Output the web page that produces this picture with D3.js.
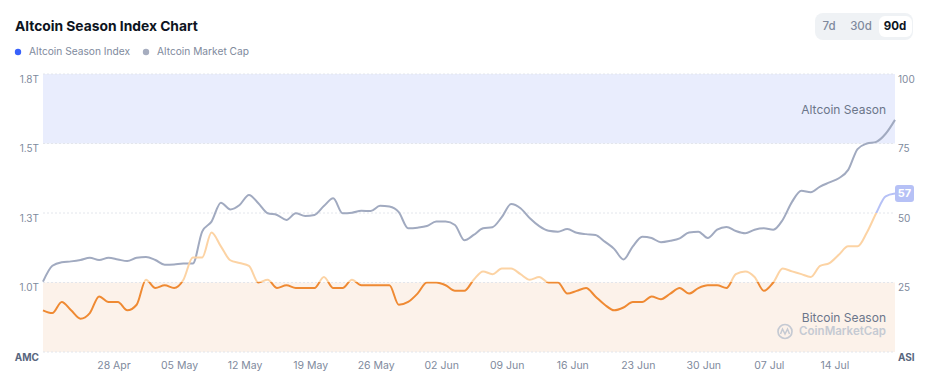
<!DOCTYPE html>
<html><head><meta charset="utf-8">
<script src="https://cdn.jsdelivr.net/npm/d3@7"></script>
<style>
html,body{margin:0;padding:0;background:#fff;}
svg{display:block;font-family:Inter,"Noto Sans",sans-serif;}
</style></head>
<body><svg id="c" width="936" height="388"></svg>
<script>
// ---- data ----
const startDate = "2025-04-20T10:00:00";
const asiValues = [15,14,18,15,12,14,20,18,18,15,17,26,23,24,23,26,34,34,43,38,33,32,31,25,26,23,24,23,23,23,27,23,23,26,24,24,24,24,17,18,21,25,25,24,22,22,26,29,28,30,30,28,26,27,25,25,21,22,23,20,17,15,16,18,18,20,19,21,23,21,23,24,24,23,28,29,27,22,25,30,29,28,27,31,32,35,38,38,43,50,56,57];
const amcValues = [1.003,1.060,1.073,1.076,1.081,1.089,1.081,1.089,1.083,1.077,1.089,1.092,1.081,1.064,1.065,1.068,1.068,1.183,1.219,1.287,1.263,1.279,1.315,1.285,1.249,1.243,1.225,1.249,1.239,1.243,1.275,1.303,1.249,1.251,1.258,1.257,1.276,1.273,1.253,1.195,1.197,1.203,1.219,1.219,1.207,1.152,1.171,1.195,1.199,1.235,1.282,1.267,1.231,1.203,1.186,1.183,1.192,1.179,1.174,1.171,1.147,1.121,1.083,1.130,1.165,1.160,1.145,1.150,1.159,1.180,1.183,1.160,1.190,1.200,1.185,1.177,1.190,1.195,1.190,1.225,1.290,1.330,1.325,1.345,1.360,1.375,1.405,1.480,1.500,1.506,1.535,1.585];
const xTickDates = ["2025-04-28","2025-05-05","2025-05-12","2025-05-19","2025-05-26","2025-06-02","2025-06-09","2025-06-16","2025-06-23","2025-06-30","2025-07-07","2025-07-14"];
const leftTicks = [0.75,1.0,1.25,1.5,1.75];
const leftTickLabels = ["AMC","1.0T","1.3T","1.5T","1.8T"];
const rightTicks = [0,25,50,75,100];
const rightTickLabels = ["ASI","25","50","75","100"];
const legendItems = ["Altcoin Season Index","Altcoin Market Cap"];
const rangeButtons = ["7d","30d","90d"];

// ---- layout ----
const svg = d3.select("#c");
const L = 43, R = 895, T = 74, B = 352;
const t0 = new Date(startDate);
const dates = asiValues.map((_, i) => d3.timeDay.offset(t0, i));
const x = d3.scaleTime().domain([dates[0], dates[dates.length-1]]).range([L, R]);
const yR = d3.scaleLinear().domain([0,100]).range([B, T]);
const yL = d3.scaleLinear().domain([0.75,1.75]).range([B, T]);

// bands
svg.append("rect").attr("x",L).attr("y",yR(100)).attr("width",R-L).attr("height",yR(75)-yR(100)).attr("fill","#e9edfd");
svg.append("rect").attr("x",L).attr("y",yR(25)).attr("width",R-L).attr("height",yR(0)-yR(25)).attr("fill","#fcf2ea");

// gridlines
svg.append("g").selectAll("line").data(rightTicks).join("line")
  .attr("x1",L).attr("x2",R).attr("y1",d=>yR(d)).attr("y2",d=>yR(d))
  .attr("stroke","#e3e6ec").attr("stroke-width",1).attr("stroke-dasharray","2,2");

// band labels
svg.append("text").attr("x",886).attr("y",111).attr("text-anchor","end").attr("dominant-baseline","middle")
  .attr("font-size",12).attr("fill","#6b768a").text("Altcoin Season");
svg.append("text").attr("x",886).attr("y",319).attr("text-anchor","end").attr("dominant-baseline","middle")
  .attr("font-size",12).attr("fill","#6b768a").text("Bitcoin Season");
// watermark
const wm = svg.append("g");
wm.append("circle").attr("cx",785).attr("cy",331.5).attr("r",7).attr("fill","none").attr("stroke","#c5cad3").attr("stroke-width",1.7);
wm.append("path").attr("d","M780.5,334 L782.5,329 L785,334 L787.5,329 L789.5,334").attr("fill","none").attr("stroke","#c5cad3").attr("stroke-width",1.5);
wm.append("text").attr("x",886).attr("y",332).attr("text-anchor","end").attr("dominant-baseline","middle")
  .attr("font-size",11.5).attr("font-weight",600).attr("fill","#c5cad3").text("CoinMarketCap");

// AMC line
const amcLine = d3.line().x((d,i)=>x(dates[i])).y(d=>yL(d)).curve(d3.curveMonotoneX);
svg.append("path").datum(amcValues).attr("d",amcLine).attr("fill","none").attr("stroke","#a1aac0").attr("stroke-width",2);

// ASI gradient
const defs = svg.append("defs");
const g = defs.append("linearGradient").attr("id","asiGrad").attr("gradientUnits","userSpaceOnUse")
  .attr("x1",0).attr("x2",0).attr("y1",yR(0)).attr("y2",yR(100));
const stops = [[0,"#ef8a33"],[0.25,"#ef8a33"],[0.25,"#fcd3a4"],[0.5,"#fcd3a4"],[0.5,"#b6c1f6"],[0.75,"#b6c1f6"],[0.75,"#3861fb"],[1,"#3861fb"]];
stops.forEach(s=>g.append("stop").attr("offset",s[0]).attr("stop-color",s[1]));
const asiLine = d3.line().x((d,i)=>x(dates[i])).y(d=>yR(d)).curve(d3.curveMonotoneX);
svg.append("path").datum(asiValues).attr("d",asiLine).attr("fill","none").attr("stroke","url(#asiGrad)").attr("stroke-width",2);

// left axis labels
svg.append("g").selectAll("text").data(leftTicks).join("text")
  .attr("x",39).attr("y",d=>yL(d)+6).attr("text-anchor","end").attr("dominant-baseline","middle")
  .attr("font-size",10).attr("fill",(d,i)=>i===0?"#58667e":"#808a9d").attr("font-weight",(d,i)=>i===0?700:400)
  .text((d,i)=>leftTickLabels[i]);
// right axis labels
svg.append("g").selectAll("text").data(rightTicks).join("text")
  .attr("x",898).attr("y",d=>yR(d)+6).attr("text-anchor","start").attr("dominant-baseline","middle")
  .attr("font-size",10).attr("fill",(d,i)=>i===0?"#58667e":"#808a9d").attr("font-weight",(d,i)=>i===0?700:400)
  .text((d,i)=>rightTickLabels[i]);
// x axis labels
const fmt = d3.timeFormat("%d %b");
svg.append("g").selectAll("text").data(xTickDates.map(s=>new Date(s+"T00:00:00"))).join("text")
  .attr("x",d=>x(d)).attr("y",366).attr("text-anchor","middle").attr("dominant-baseline","middle")
  .attr("font-size",10.5).attr("fill","#808a9d").text(d=>fmt(d));

// current value badge
const last = asiValues[asiValues.length-1];
svg.append("rect").attr("x",895).attr("y",yR(last)-8.5).attr("width",19).attr("height",17).attr("rx",3).attr("fill","#b6c1f6");
svg.append("text").attr("x",904.5).attr("y",yR(last)+0.5).attr("text-anchor","middle").attr("dominant-baseline","middle")
  .attr("font-size",11).attr("font-weight",700).attr("fill","#fff").text(last);

// title
svg.append("text").attr("x",15).attr("y",27).attr("dominant-baseline","middle").attr("font-size",13.8).attr("font-weight",700).attr("fill","#0d1421").text("Altcoin Season Index Chart");
// legend
const legColors = ["#3861fb","#a6adbf"];
const legX = [18,146];
legendItems.forEach((t,i)=>{
  svg.append("circle").attr("cx",legX[i]).attr("cy",52).attr("r",3.2).attr("fill",legColors[i]);
  svg.append("text").attr("x",legX[i]+11).attr("y",52).attr("dominant-baseline","middle").attr("font-size",10.2).attr("fill","#808a9d").text(t);
});
// range buttons
svg.append("rect").attr("x",815).attr("y",13).attr("width",98).attr("height",27).attr("rx",8).attr("fill","#eff2f5");
svg.append("rect").attr("x",879).attr("y",16).attr("width",33).attr("height",21).attr("rx",6).attr("fill","#fff");
const btnX = [829,861,895];
rangeButtons.forEach((t,i)=>{
  svg.append("text").attr("x",btnX[i]).attr("y",27).attr("text-anchor","middle").attr("dominant-baseline","middle")
    .attr("font-size",11.5).attr("font-weight",i===2?700:500).attr("fill",i===2?"#0d1421":"#808a9d").text(t);
});
</script></body></html>
